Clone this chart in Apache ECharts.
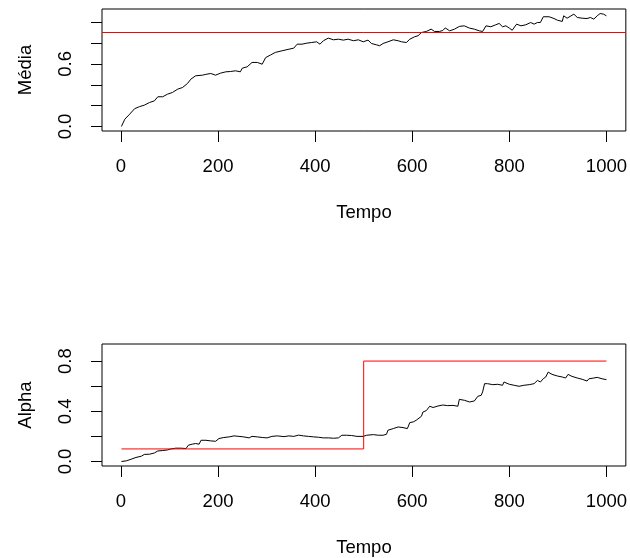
<!DOCTYPE html>
<html>
<head>
<meta charset="utf-8">
<script src="https://cdn.jsdelivr.net/npm/echarts@6/dist/echarts.min.js"></script>
<style>html,body{margin:0;padding:0;background:#fff;}#c{width:630px;height:558px;}</style>
</head>
<body>
<div id="c"></div>
<script>
// ---- data ----
const mediaT = [1,8,18,28,38,48,59,69,76,86,96,106,117,127,137,144,154,168,175,185,195,205,216,226,236,246,250,260,270,281,291,298,308,318,332,346,356,363,373,383,393,403,410,414,417,427,438,448,458,468,479,489,499,509,516,526,533,540,550,561,571,578,588,595,605,612,619,629,639,646,656,663,668,677,687,697,707,718,728,738,745,752,762,772,779,786,793,800,806,810,815,824,834,844,851,858,864,870,882,892,899,909,912,919,933,940,950,960,967,974,981,987,994,1000];
const mediaV = [0.00,0.07,0.118,0.17,0.19,0.204,0.23,0.246,0.285,0.285,0.31,0.326,0.358,0.374,0.412,0.454,0.486,0.492,0.50,0.508,0.492,0.511,0.524,0.527,0.534,0.524,0.559,0.572,0.614,0.614,0.597,0.66,0.685,0.71,0.726,0.741,0.751,0.789,0.789,0.799,0.805,0.812,0.789,0.774,0.822,0.847,0.831,0.837,0.828,0.837,0.822,0.831,0.812,0.828,0.796,0.783,0.774,0.796,0.812,0.831,0.822,0.812,0.805,0.837,0.86,0.87,0.901,0.911,0.933,0.911,0.911,0.92,0.945,0.917,0.933,0.959,0.965,0.943,0.933,0.917,0.911,0.965,0.956,0.975,0.988,0.956,0.965,0.943,0.923,0.911,0.981,0.965,0.975,0.997,0.981,0.997,0.997,1.052,1.052,1.035,1.019,1.007,1.061,1.038,1.077,1.045,1.038,1.035,1.045,1.029,1.061,1.083,1.077,1.061];
const mediaRef = 0.9;

const alphaT = [1,11,21,31,42,48,59,69,76,86,96,103,113,124,134,139,147,154,161,165,175,185,195,202,212,223,233,243,253,264,270,281,291,301,311,322,325,336,346,356,366,376,386,397,407,417,428,438,448,455,465,475,486,499,506,509,520,530,540,547,550,561,571,581,590,595,602,608,612,619,622,629,636,643,653,663,673,684,694,697,708,718,728,735,742,745,749,755,766,776,786,789,800,810,820,830,841,851,858,864,870,875,880,888,899,909,916,921,929,940,950,960,964,974,981,991,1000];
const alphaV = [0.0,0.005,0.018,0.032,0.042,0.056,0.058,0.068,0.084,0.087,0.092,0.1,0.106,0.106,0.103,0.13,0.138,0.143,0.138,0.169,0.169,0.164,0.161,0.183,0.191,0.196,0.204,0.2,0.196,0.188,0.2,0.196,0.191,0.188,0.2,0.204,0.2,0.198,0.204,0.2,0.21,0.204,0.2,0.196,0.193,0.188,0.188,0.185,0.188,0.209,0.209,0.207,0.2,0.2,0.209,0.22,0.214,0.209,0.209,0.217,0.249,0.262,0.275,0.27,0.262,0.31,0.315,0.328,0.342,0.36,0.394,0.405,0.44,0.43,0.442,0.45,0.445,0.447,0.44,0.495,0.487,0.474,0.482,0.519,0.527,0.554,0.62,0.62,0.612,0.615,0.607,0.633,0.615,0.607,0.599,0.607,0.612,0.62,0.646,0.633,0.66,0.673,0.712,0.694,0.681,0.673,0.665,0.694,0.678,0.665,0.655,0.641,0.659,0.665,0.67,0.659,0.652];
const alphaRefT = [1,500,500,1000];
const alphaRefV = [0.1,0.1,0.8,0.8];

const xTicks = [0,200,400,600,800,1000];
const mediaTicks = [0,0.2,0.4,0.6,0.8,1.0];
const mediaLabels = [0,0.6];
const alphaTicks = [0,0.2,0.4,0.6,0.8];
const alphaLabels = [0,0.4,0.8];

// ---- chart ----
const zip = (a,b) => a.slice(0, Math.min(a.length,b.length)).map((v,i)=>[v,b[i]]);
const FONT = 'Liberation Sans, Arial, Helvetica, sans-serif';
const FS = 18.5;

function xAxisCfg(gi){
  return {
    type:'value', gridIndex:gi, min:-39, max:1040,
    name:'Tempo', nameLocation:'middle', nameGap:72,
    nameTextStyle:{fontFamily:FONT,fontSize:FS,color:'#000'},
    axisLine:{show:false,onZero:false},
    axisTick:{show:true,length:11,customValues:xTicks,lineStyle:{color:'#000',width:1}},
    axisLabel:{customValues:xTicks,margin:26,fontFamily:FONT,fontSize:FS,color:'#000',
      formatter:v=>String(v)},
    splitLine:{show:false}
  };
}
function yAxisCfg(gi,name,min,max,ticks,labels){
  return {
    type:'value', gridIndex:gi, min:min, max:max,
    name:name, nameLocation:'middle', nameGap:67, nameRotate:90,
    nameTextStyle:{fontFamily:FONT,fontSize:FS,color:'#000'},
    axisLine:{show:false,onZero:false},
    axisTick:{show:true,length:11,customValues:ticks,lineStyle:{color:'#000',width:1}},
    axisLabel:{customValues:labels,rotate:90,margin:27,fontFamily:FONT,fontSize:FS,color:'#000',
      formatter:v=>Number(v).toFixed(1)},
    splitLine:{show:false}
  };
}

const chart = echarts.init(document.getElementById('c'), null, {renderer:'canvas'});
chart.setOption({
  animation:false,
  backgroundColor:'#fff',
  grid:[
    {left:102, top:9, width:526, height:122, show:true, borderColor:'#000', borderWidth:1, backgroundColor:'transparent'},
    {left:102, top:344, width:526, height:122, show:true, borderColor:'#000', borderWidth:1, backgroundColor:'transparent'}
  ],
  xAxis:[xAxisCfg(0), xAxisCfg(1)],
  yAxis:[
    yAxisCfg(0,'Média',-0.0433,1.1263,mediaTicks,mediaLabels),
    yAxisCfg(1,'Alpha',-0.036,0.936,alphaTicks,alphaLabels)
  ],
  series:[
    {type:'line', xAxisIndex:0, yAxisIndex:0, data:zip(mediaT,mediaV), symbol:'none',
     lineStyle:{color:'#000',width:1}, z:2,
     markLine:{silent:true, symbol:['none','none'], label:{show:false},
       lineStyle:{color:'#ff0000',width:1,type:'solid'}, data:[{yAxis:mediaRef}]}},
    {type:'line', xAxisIndex:1, yAxisIndex:1, data:zip(alphaT,alphaV), symbol:'none',
     lineStyle:{color:'#000',width:1}, z:2},
    {type:'line', xAxisIndex:1, yAxisIndex:1, data:zip(alphaRefT,alphaRefV), symbol:'none',
     lineStyle:{color:'#ff0000',width:1}, z:3}
  ]
});
</script>
</body>
</html>
